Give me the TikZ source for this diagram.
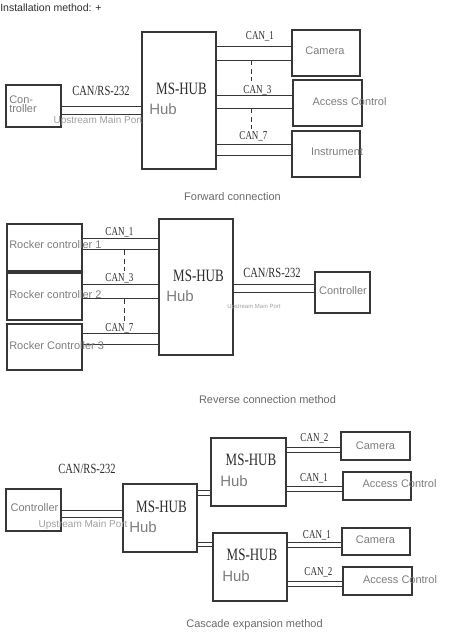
\documentclass[tikz,border=0pt]{standalone}
\usepackage{fontspec}
\setmainfont{Liberation Sans}
\newfontfamily\hubserif[FakeStretch=0.75]{Liberation Serif}
\usepackage{tikz}
\usetikzlibrary{fit,positioning}
\definecolor{hbLine}{RGB}{55,55,55}
\definecolor{hbText}{RGB}{125,125,125}
\definecolor{hbDark}{RGB}{45,45,45}
\definecolor{hbPort}{RGB}{160,160,160}

\begin{document}
\begin{tikzpicture}[
    x=0.75pt, y=-0.75pt,
    unit box/.style={rectangle, draw=hbLine, line width=0.9pt, inner sep=0pt},
    wire/.style={draw=hbLine, line width=0.75pt},
    gap dash/.style={draw=hbLine, line width=0.75pt, dash pattern=on 4pt off 2.5pt},
    box text/.style={text=hbText, font=\fontsize{8.25}{9}\selectfont, inner sep=0pt},
    hub name/.style={text=hbDark, font=\hubserif\fontsize{13}{14}\selectfont, inner sep=0pt},
    hub word/.style={text=hbText, font=\fontsize{11.25}{12}\selectfont, inner sep=0pt, anchor=west},
    can tag/.style={text=hbDark, font=\hubserif\fontsize{9}{10}\selectfont, inner sep=0pt},
    bus tag/.style={text=hbDark, font=\hubserif\fontsize{10.5}{11}\selectfont, inner sep=0pt},
    port tag/.style={text=hbPort, font=\fontsize{7.5}{8}\selectfont, inner sep=0pt},
    caption/.style={text=hbText!85!black, font=\fontsize{8.25}{9}\selectfont, inner sep=0pt}
]
  \useasboundingbox (0,0) rectangle (475,637);

  \node[anchor=west, inner sep=0pt, text=hbDark, font=\fontsize{7.9}{9}\selectfont] (title) at (0,8) {Installation method: +};

  % forward connection
  \node[unit box, fit={(6,85) (61,127)}] (ctrlA) {};
  \node[box text, anchor=west, align=left, font=\fontsize{8.25}{6.75}\selectfont] (ctrlAtxt) at (9,104) {Con-\\troller};
  \node[unit box, fit={(142,32) (216,169)}] (hubA) {};
  \node[hub name] (hubAname) at (181.5,89) {MS-HUB};
  \node[hub word] (hubAword) at (149,109) {Hub};

  \node[unit box, fit={(292,30) (360,76)}] (camA) {};
  \node[box text] (camAtxt) at (325,51) {Camera};
  \node[unit box, fit={(293,80) (362,126)}] (accA) {};
  \node[box text] (accAtxt) at (349.5,102) {Access Control};
  \node[unit box, fit={(292,131) (360,177)}] (insA) {};
  \node[box text] (insAtxt) at (337,152) {Instrument};

  \draw[wire] (ctrlA.east |- 0,106) -- (hubA.west |- 0,106) (ctrlA.east |- 0,114) -- (hubA.west |- 0,114);
  \draw[wire] (hubA.east |- 0,46) -- (camA.west |- 0,46) (hubA.east |- 0,60) -- (camA.west |- 0,60);
  \draw[wire] (hubA.east |- 0,95) -- (accA.west |- 0,95) (hubA.east |- 0,108) -- (accA.west |- 0,108);
  \draw[wire] (hubA.east |- 0,144) -- (insA.west |- 0,144) (hubA.east |- 0,155) -- (insA.west |- 0,155);
  \draw[gap dash] (251,60) -- (251,81) (251,108) -- (251,129);

  \node[bus tag] (busA) at (101,91) {CAN/RS-232};
  \node[port tag] (portA) at (98,121) {Upstream Main Port};
  \node[can tag] (canA1) at (260,36) {CAN\_1};
  \node[can tag] (canA3) at (257.5,90) {CAN\_3};
  \node[can tag] (canA7) at (253.5,136) {CAN\_7};
  \node[caption] (capA) at (232.5,197) {Forward connection};

  % reverse connection
  \node[unit box, fit={(7,224) (82,271)}] (rockA) {};
  \node[unit box, fit={(7,273) (82,320)}] (rockB) {};
  \node[unit box, fit={(7,324) (82,370)}] (rockC) {};
  \node[unit box, fit={(159,219) (233,355)}] (hubB) {};
  \node[unit box, fit={(315,272) (370,313)}] (ctrlB) {};

  \draw[wire] (rockA.east |- 0,238) -- (hubB.west |- 0,238) (rockA.east |- 0,249) -- (hubB.west |- 0,249);
  \draw[wire] (rockB.east |- 0,284) -- (hubB.west |- 0,284) (rockB.east |- 0,298) -- (hubB.west |- 0,298);
  \draw[wire] (rockC.east |- 0,333) -- (hubB.west |- 0,333) (rockC.east |- 0,344) -- (hubB.west |- 0,344);
  \draw[wire] (hubB.east |- 0,284) -- (ctrlB.west |- 0,284) (hubB.east |- 0,292) -- (ctrlB.west |- 0,292);
  \draw[gap dash] (124,250) -- (124,271) (124,299) -- (124,321);

  \node[box text, anchor=west] (rockAtxt) at (9,245) {Rocker controller 1};
  \node[box text, anchor=west] (rockBtxt) at (9,295) {Rocker controller 2};
  \node[box text, anchor=west] (rockCtxt) at (9,346) {Rocker Controller 3};
  \node[hub name] (hubBname) at (198.5,276) {MS-HUB};
  \node[hub word] (hubBword) at (166,296) {Hub};
  \node[box text] (ctrlBtxt) at (343,291) {Controller};
  \node[can tag] (canB1) at (119.5,232) {CAN\_1};
  \node[can tag] (canB3) at (119.5,278) {CAN\_3};
  \node[can tag] (canB7) at (119.5,328) {CAN\_7};
  \node[bus tag] (busB) at (272,273) {CAN/RS-232};
  \node[port tag, font=\fontsize{4.5}{5}\selectfont] (portB) at (254,307) {Upstream Main Port};
  \node[caption] (capB) at (267.5,400) {Reverse connection method};

  % cascade expansion
  \node[unit box, fit={(6,489) (61,531)}] (ctrlC) {};
  \node[unit box, fit={(123,484) (197,552)}] (hubC) {};
  \node[unit box, fit={(211,438) (286,506)}] (hubCup) {};
  \node[unit box, fit={(213,533) (287,601)}] (hubCdn) {};
  \node[unit box, fit={(341,432) (410,460)}] (camCup) {};
  \node[unit box, fit={(343,472) (411,500)}] (accCup) {};
  \node[unit box, fit={(342,528) (410,555)}] (camCdn) {};
  \node[unit box, fit={(343,567) (412,595)}] (accCdn) {};

  \draw[wire] (ctrlC.east |- 0,510) -- (hubC.west |- 0,510) (ctrlC.east |- 0,517) -- (hubC.west |- 0,517);
  \draw[wire] (hubC.east |- 0,490) -- (hubCup.west |- 0,490) (hubC.east |- 0,495) -- (hubCup.west |- 0,495);
  \draw[wire] (hubC.east |- 0,542) -- (hubCdn.west |- 0,542) (hubC.east |- 0,546) -- (hubCdn.west |- 0,546);
  \draw[wire] (hubCup.east |- 0,447) -- (camCup.west |- 0,447) (hubCup.east |- 0,452) -- (camCup.west |- 0,452);
  \draw[wire] (hubCup.east |- 0,486) -- (accCup.west |- 0,486) (hubCup.east |- 0,491) -- (accCup.west |- 0,491);
  \draw[wire] (hubCdn.east |- 0,542) -- (camCdn.west |- 0,542) (hubCdn.east |- 0,547) -- (camCdn.west |- 0,547);
  \draw[wire] (hubCdn.east |- 0,581) -- (accCdn.west |- 0,581) (hubCdn.east |- 0,586) -- (accCdn.west |- 0,586);

  \node[box text] (ctrlCtxt) at (34.5,508) {Controller};
  \node[bus tag] (busC) at (87,469) {CAN/RS-232};
  \node[port tag] (portC) at (83,525) {Upstream Main Port};
  \node[hub name] (hubCname) at (161.5,507) {MS-HUB};
  \node[hub word] (hubCword) at (129,527) {Hub};
  \node[hub name] (hubCupname) at (251,460) {MS-HUB};
  \node[hub word] (hubCupword) at (220,481) {Hub};
  \node[hub name] (hubCdnname) at (252,555) {MS-HUB};
  \node[hub word] (hubCdnword) at (222,576) {Hub};
  \node[box text] (camCuptxt) at (375.5,446) {Camera};
  \node[box text] (accCuptxt) at (399.5,484) {Access Control};
  \node[box text] (camCdntxt) at (375.5,540) {Camera};
  \node[box text] (accCdntxt) at (400,580) {Access Control};
  \node[can tag] (canCup2) at (314.5,438) {CAN\_2};
  \node[can tag] (canCup1) at (314,478) {CAN\_1};
  \node[can tag] (canCdn1) at (317,535) {CAN\_1};
  \node[can tag] (canCdn2) at (318.5,572) {CAN\_2};
  \node[caption] (capC) at (254.5,625) {Cascade expansion method};
\end{tikzpicture}
\end{document}
